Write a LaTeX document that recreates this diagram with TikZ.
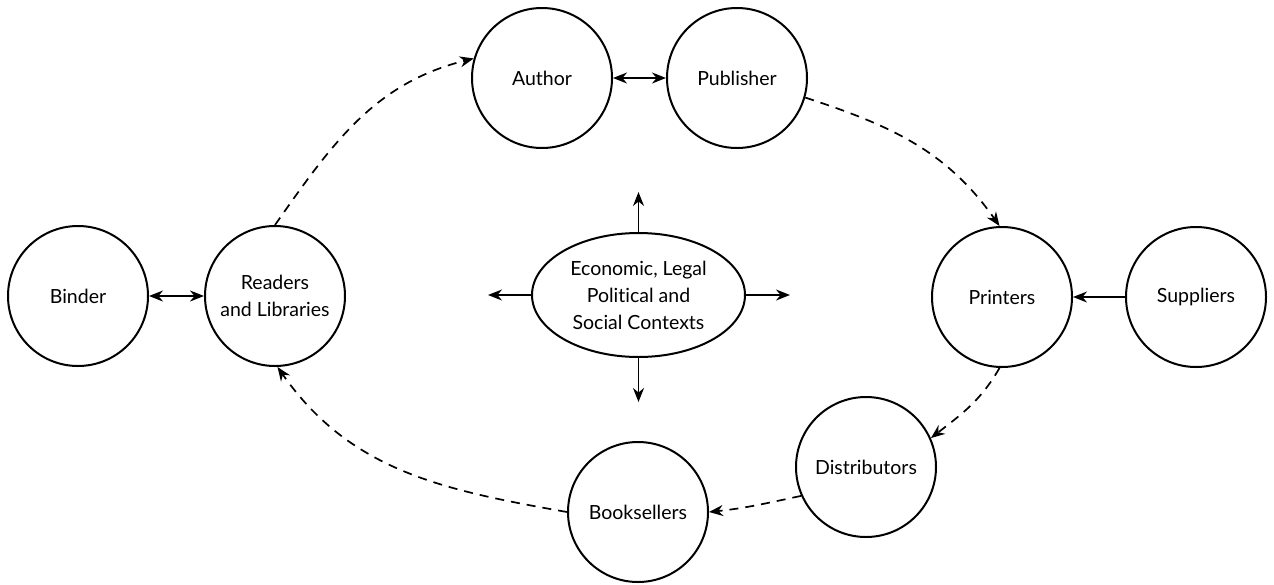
\documentclass[tikz,border=0pt]{standalone}
\usepackage{fontspec}
\setmainfont{Lato}[Ligatures={NoCommon,NoDiscretionary,NoRare}]
\usetikzlibrary{arrows.meta,shapes.geometric}
\begin{document}
\begin{tikzpicture}[x=1pt,y=1pt,
  lbl/.style={font=\fontsize{19.5}{27}\selectfont},
  circ/.style={draw,circle,line width=2pt,minimum size=140pt,inner sep=0pt,align=center,lbl},
  conn/.style={line width=1.7pt,-{Stealth[length=14pt,width=11pt]}},
  biconn/.style={line width=1.7pt,{Stealth[length=14pt,width=11pt]}-{Stealth[length=14pt,width=11pt]}},
  dconn/.style={conn,dash pattern=on 9pt off 7pt},
]
\useasboundingbox (0,0) rectangle (1274,-584);
\node[circ] (binder) at (78,-296) {Binder};
\node[circ] (readers) at (275,-296) {Readers\\and Libraries};
\node[circ] (author) at (542,-78) {Author};
\node[circ] (publisher) at (737,-78) {Publisher};
\node[circ] (printers) at (1002,-297) {Printers};
\node[circ] (suppliers) at (1196,-297) {Suppliers};
\node[circ] (distributors) at (866,-467) {Distributors};
\node[circ] (booksellers) at (638,-512) {Booksellers};
\node[draw,ellipse,line width=2pt,minimum width=213pt,minimum height=124pt,inner sep=0pt,align=center,lbl] (ctx) at (638.5,-295) {Economic, Legal\\Political and\\Social Contexts};
\coordinate (up) at (638.5,-192);
\coordinate (down) at (638.5,-402);
\coordinate (left) at (488,-295);
\coordinate (right) at (790,-295);
\draw[conn] (ctx.north) -- (up);
\draw[conn] (ctx.south) -- (down);
\draw[conn] (ctx.west) -- (left);
\draw[conn] (ctx.east) -- (right);
\draw[biconn] (binder) -- (readers);
\draw[biconn] (author) -- (publisher);
\draw[conn] (suppliers) -- (printers);
\draw[dconn] (readers.90) to[out=55,in=194] (author.164);
\draw[dconn] (publisher.-16) to[out=-18,in=125] (printers.92);
\draw[dconn] (printers.-92) to[out=-120,in=38] (distributors.24);
\draw[dconn] (distributors.204) to[out=192,in=6] (booksellers.0);
\draw[dconn] (booksellers.180) to[out=170,in=-55] (readers.-88);
\end{tikzpicture}
\end{document}
